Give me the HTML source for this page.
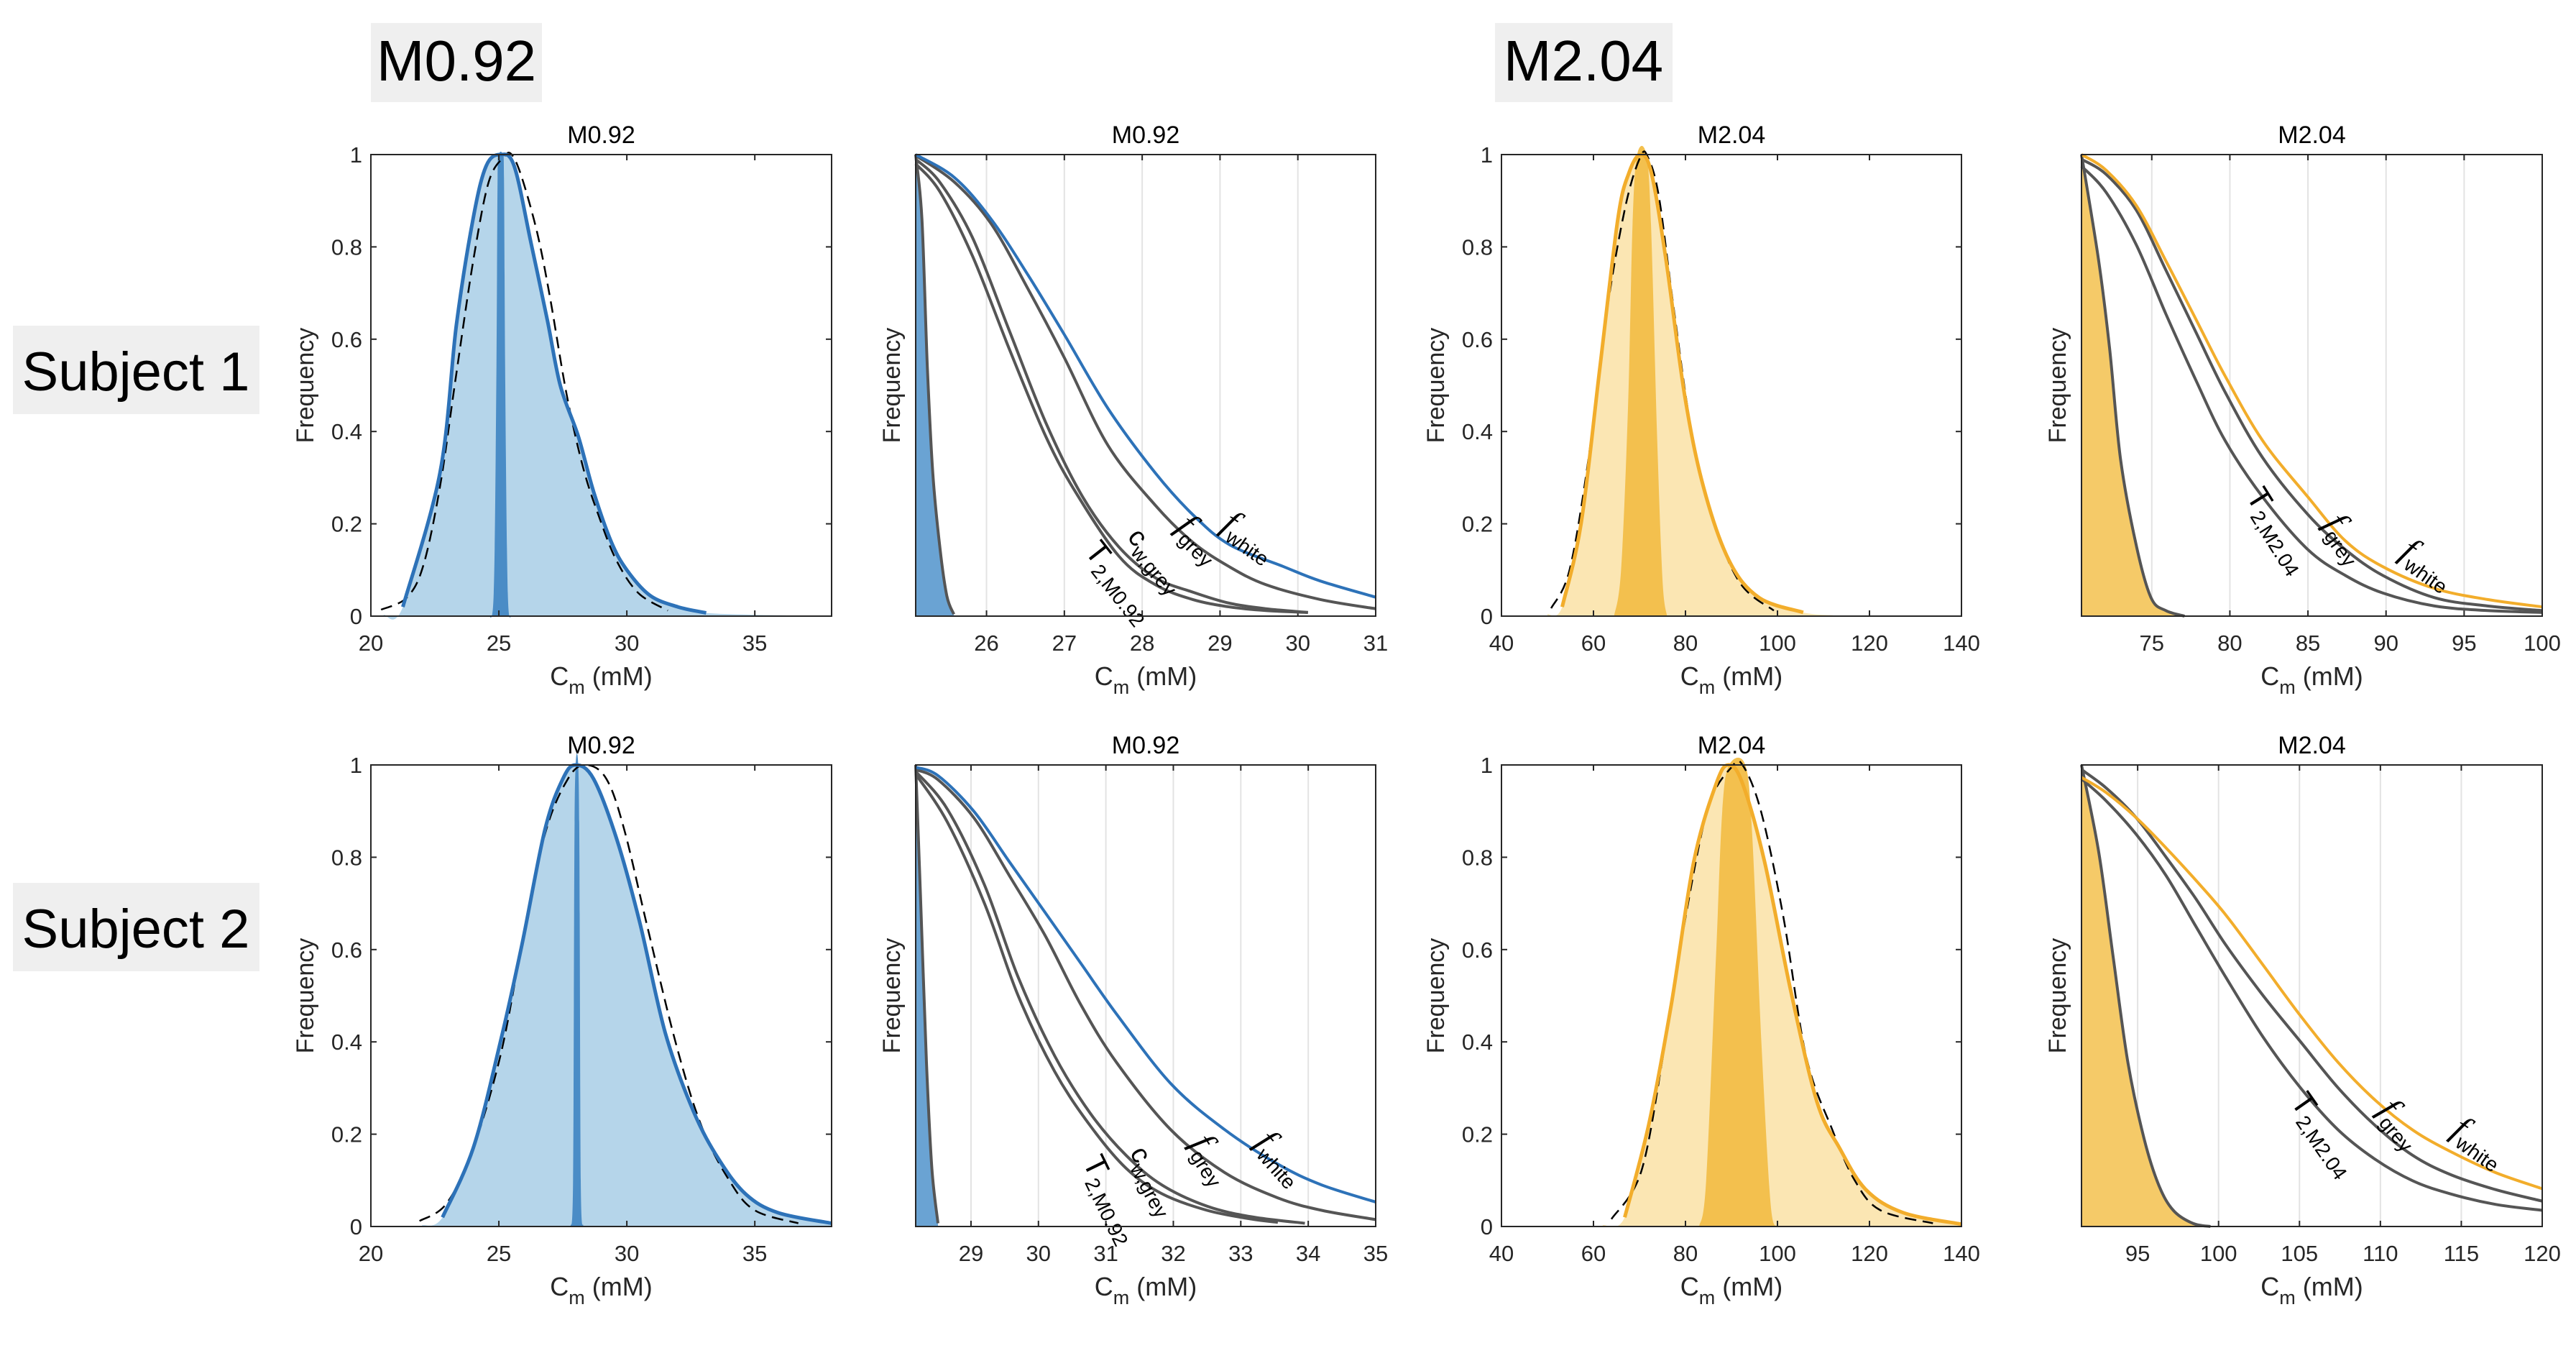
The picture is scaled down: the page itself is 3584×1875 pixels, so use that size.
<!DOCTYPE html>
<html><head><meta charset="utf-8"><style>
html,body{margin:0;padding:0;background:#fff;}
svg text{font-family:"Liberation Sans",sans-serif;}
</style></head><body>
<svg id="fig" xmlns="http://www.w3.org/2000/svg" width="3584" height="1870" viewBox="0 0 3584 1870">
<rect x="0" y="0" width="3584" height="1870" fill="#fff"/>
<g><rect x="516" y="32" width="238" height="110" fill="#efefef"/><text x="635" y="112" font-size="80" text-anchor="middle">M0.92</text></g>
<g><rect x="2080" y="32" width="247" height="110" fill="#efefef"/><text x="2203" y="112" font-size="80" text-anchor="middle">M2.04</text></g>
<g><rect x="18" y="453" width="343" height="123" fill="#efefef"/><text x="189" y="543" font-size="76" text-anchor="middle">Subject 1</text></g>
<g><rect x="18" y="1228" width="343" height="123" fill="#efefef"/><text x="189" y="1318" font-size="76" text-anchor="middle">Subject 2</text></g>
<g id="plots"></g>
</svg>
<script>
// ---------- data ----------
const a1FitX=[21.25,22.7,23.34,23.99,24.5,25.06,25.6,26.25,26.9,27.4,28.1,28.7,29.4,30.0,30.9,32.0,33.1];
const a1FitY=[0.02,0.31,0.63,0.86,0.975,1.0,0.975,0.81,0.64,0.50,0.39,0.27,0.16,0.10,0.045,0.02,0.007];
const a1DashX=[20.4,21.4,22.05,22.7,23.3,24.0,24.6,25.2,25.5,25.9,26.5,27.0,27.65,28.3,28.95,29.6,30.45,31.6];
const a1DashY=[0.014,0.04,0.11,0.28,0.51,0.77,0.94,0.995,1.0,0.95,0.83,0.69,0.48,0.32,0.21,0.12,0.05,0.012];
const a1HistX=[20.5,21.25,22.7,23.34,23.99,24.5,25.06,25.6,26.25,26.9,27.4,28.1,28.7,29.4,30.0,30.9,32.0,33.1,35,37];
const a1HistY=[0.003,0.02,0.31,0.63,0.86,0.975,1.0,0.975,0.81,0.64,0.50,0.39,0.27,0.16,0.10,0.045,0.02,0.007,0.003,0.001];
const a1PeakX=[24.6,24.8,24.9,24.95,25.0,25.15,25.2,25.25,25.35,25.5];
const a1PeakY=[0,0.05,0.5,0.95,1,1,0.95,0.5,0.05,0];
const b1FitX=[22.8,24.0,25.06,25.9,26.8,27.5,28.0,28.7,29.6,30.5,31.5,32.6,33.6,34.65,35.9,38];
const b1FitY=[0.02,0.17,0.40,0.61,0.86,0.97,1.0,0.97,0.84,0.66,0.42,0.25,0.145,0.07,0.03,0.007];
const b1DashX=[21.9,22.96,24.0,25.06,25.9,26.8,27.7,28.4,29.2,29.9,30.8,31.9,32.9,34.0,35.0,36.7];
const b1DashY=[0.012,0.05,0.17,0.37,0.61,0.85,0.97,1.0,0.97,0.86,0.65,0.40,0.22,0.10,0.035,0.007];
const b1HistX=[22.0,22.8,24.0,25.06,25.9,26.8,27.5,28.0,28.7,29.6,30.5,31.5,32.6,33.6,34.65,35.9,38];
const b1HistY=[0.003,0.02,0.17,0.40,0.61,0.86,0.97,1.0,0.97,0.84,0.66,0.42,0.25,0.145,0.07,0.03,0.007];
const b1PeakX=[27.8,27.9,27.95,28.0,28.1,28.15,28.2,28.3];
const b1PeakY=[0,0.1,0.8,1,1,0.8,0.1,0];
const a3FitX=[53.2,57.3,61.3,65.3,67.7,70.2,72.6,75.8,79.8,83.9,89.5,96,105.6];
const a3FitY=[0.02,0.2,0.53,0.86,0.96,1.0,0.96,0.77,0.48,0.28,0.12,0.04,0.008];
const a3DashX=[50.8,54.8,58.9,62.9,67,70.2,71.8,74.2,77.4,81.5,86.3,92,99.2];
const a3DashY=[0.017,0.1,0.34,0.66,0.89,0.995,0.995,0.91,0.67,0.39,0.2,0.07,0.012];
const a3HistX=[50,53.2,57.3,61.3,65.3,67.7,70.2,72.6,75.8,79.8,83.9,89.5,96,105.6,112];
const a3HistY=[0.004,0.02,0.2,0.53,0.86,0.96,1.0,0.96,0.77,0.48,0.28,0.12,0.04,0.008,0.002];
const a3PeakX=[64.5,66,67.5,68.5,69.5,71.5,72.5,73.8,75,76];
const a3PeakY=[0,0.1,0.45,0.85,1,1,0.85,0.4,0.08,0];
const b3FitX=[66.8,72,76.9,81.8,86.7,89.4,92.4,97.2,102.9,108.6,113.5,119.2,127.3,140];
const b3FitY=[0.02,0.22,0.48,0.79,0.96,1.0,0.96,0.79,0.51,0.27,0.17,0.08,0.03,0.005];
const b3DashX=[63.9,70.4,75.3,80.2,85,90,92.4,96.4,101.3,106.2,111.9,116.8,122.4,133.8];
const b3DashY=[0.016,0.12,0.38,0.68,0.91,0.995,1.0,0.9,0.67,0.37,0.21,0.1,0.035,0.007];
const b3HistX=[62,66.8,72,76.9,81.8,86.7,89.4,92.4,97.2,102.9,108.6,113.5,119.2,127.3,140];
const b3HistY=[0.003,0.02,0.22,0.48,0.79,0.96,1.0,0.96,0.79,0.51,0.27,0.17,0.08,0.03,0.005];
const b3PeakX=[83,84.5,86.7,88,89.5,93,94.5,96.5,98.5,100];
const b3PeakY=[0,0.1,0.6,0.9,1,1,0.85,0.4,0.05,0];
const a2WhiteX=[25.09,25.59,26.06,26.53,27.0,27.56,28.17,28.65,29.12,29.82,30.29,31.0];
const a2WhiteY=[1.0,0.95,0.86,0.74,0.61,0.45,0.31,0.22,0.155,0.107,0.076,0.041];
const a2GreyX=[25.09,25.59,26.06,26.53,27.0,27.56,28.17,28.65,29.12,29.59,30.29,31.0];
const a2GreyY=[0.998,0.94,0.85,0.71,0.56,0.37,0.24,0.16,0.107,0.068,0.036,0.016];
const a2CwX=[25.09,25.4,25.82,26.29,26.76,27.23,27.7,28.17,28.65,29.12,29.59,30.13];
const a2CwY=[0.99,0.94,0.82,0.62,0.42,0.26,0.15,0.083,0.052,0.028,0.016,0.008];
const a2T2X=[25.09,25.4,25.82,26.29,26.76,27.14,27.7,28.17,28.65,29.12,29.59,30.13];
const a2T2Y=[0.98,0.92,0.78,0.58,0.39,0.27,0.13,0.068,0.036,0.02,0.012,0.008];
const a2FillX=[25.09,25.17,25.24,25.31,25.4,25.49,25.58];
const a2FillY=[1,0.86,0.54,0.31,0.15,0.044,0.004];
const b2WhiteX=[28.18,28.51,29.04,29.57,30.1,30.63,31.16,31.96,32.76,33.55,34.2,35];
const b2WhiteY=[0.995,0.977,0.90,0.79,0.68,0.57,0.46,0.31,0.21,0.135,0.09,0.053];
const b2GreyX=[28.18,28.51,29.04,29.57,30.1,30.63,31.16,31.96,32.76,33.55,34.2,35];
const b2GreyY=[0.99,0.968,0.886,0.76,0.63,0.48,0.355,0.21,0.117,0.062,0.035,0.015];
const b2CwX=[28.18,28.65,29.2,29.7,30.24,30.77,31.3,31.83,32.5,33.16,33.95];
const b2CwY=[0.986,0.904,0.74,0.54,0.37,0.245,0.154,0.09,0.044,0.021,0.007];
const b2T2X=[28.18,28.65,29.2,29.7,30.24,30.77,31.3,31.83,32.5,33.16,33.55];
const b2T2Y=[0.98,0.876,0.70,0.50,0.336,0.218,0.126,0.071,0.035,0.016,0.009];
const b2FillX=[28.18,28.25,28.34,28.42,28.51];
const b2FillY=[1,0.72,0.355,0.126,0.007];
const a4WhiteX=[70.5,72.08,74.0,75.9,77.8,79.7,82.1,85.0,87.4,89.8,93.1,96.5,100];
const a4WhiteY=[1.0,0.966,0.89,0.77,0.645,0.52,0.38,0.258,0.163,0.107,0.06,0.036,0.02];
const a4GreyX=[70.5,72.08,74.0,75.9,77.8,79.7,82.1,85.0,87.4,89.8,93.1,96.5,100];
const a4GreyY=[0.99,0.957,0.88,0.75,0.617,0.485,0.343,0.22,0.144,0.088,0.04,0.022,0.012];
const a4T2X=[70.5,72.08,74.0,75.9,77.8,79.7,82.1,85.0,87.4,89.8,93.1,96.5,100];
const a4T2Y=[0.975,0.918,0.805,0.655,0.513,0.38,0.258,0.144,0.088,0.05,0.022,0.012,0.008];
const a4FillX=[70.5,71.6,72.3,73.0,74.0,74.95,75.9,77.1];
const a4FillY=[1,0.77,0.58,0.34,0.154,0.04,0.012,0];
const b4WhiteX=[91.53,93.06,94.9,96.76,98.6,100.45,102.76,105.07,107.4,109.7,112.0,114.3,117.1,120];
const b4WhiteY=[0.973,0.94,0.886,0.82,0.75,0.675,0.566,0.456,0.355,0.273,0.209,0.163,0.117,0.082];
const b4GreyX=[91.53,93.06,94.9,96.76,98.6,100.45,102.76,105.07,107.4,109.7,112.0,114.3,117.1,120];
const b4GreyY=[0.99,0.95,0.886,0.80,0.71,0.61,0.50,0.40,0.30,0.218,0.154,0.113,0.08,0.055];
const b4T2X=[91.53,93.06,94.9,96.76,98.6,100.45,102.76,105.07,107.4,109.7,112.0,114.3,117.1,120];
const b4T2Y=[0.97,0.922,0.85,0.76,0.65,0.54,0.41,0.30,0.209,0.145,0.099,0.071,0.048,0.035];
const b4FillX=[91.53,92.6,93.5,94.4,95.4,96.3,97.2,98.4,99.5];
const b4FillY=[1,0.81,0.58,0.355,0.19,0.09,0.035,0.007,0];
const ticksC1=[20,25,30,35];
const ticksC3=[40,60,80,100,120,140];
const ticksA2=[26,27,28,29,30,31];
const ticksB2=[29,30,31,32,33,34,35];
const ticksA4=[75,80,85,90,95,100];
const ticksB4=[95,100,105,110,115,120];
const ticksY=[0,0.2,0.4,0.6,0.8,1];
const tickLabelsY=["0","0.2","0.4","0.6","0.8","1"];

// ---------- drawing ----------
const NS="http://www.w3.org/2000/svg";
const root=document.getElementById('plots');
function mk(tag,attrs,parent){const e=document.createElementNS(NS,tag);for(const k in attrs)e.setAttribute(k,attrs[k]);(parent||root).appendChild(e);return e;}
function axes(x0,x1,L,R,T,B){return {sx:v=>L+(v-x0)/(x1-x0)*(R-L),sy:v=>B-v*(B-T),L,R,T,B};}
function smooth(P){let d='';for(let i=0;i<P.length-1;i++){const p0=P[i-1]||P[i],p1=P[i],p2=P[i+1],p3=P[i+2]||P[i+1];
  const c1=[p1[0]+(p2[0]-p0[0])/6,p1[1]+(p2[1]-p0[1])/6],c2=[p2[0]-(p3[0]-p1[0])/6,p2[1]-(p3[1]-p1[1])/6];
  d+=' C'+c1[0].toFixed(1)+','+c1[1].toFixed(1)+' '+c2[0].toFixed(1)+','+c2[1].toFixed(1)+' '+p2[0].toFixed(1)+','+p2[1].toFixed(1);}return d;}
function curveD(ax,X,Y){const P=X.map((x,i)=>[ax.sx(x),ax.sy(Y[i])]);return 'M'+P[0][0].toFixed(1)+','+P[0][1].toFixed(1)+smooth(P);}
function areaD(ax,X,Y){const P=X.map((x,i)=>[ax.sx(x),ax.sy(Y[i])]);return 'M'+P[0][0].toFixed(1)+','+ax.B+' L'+P[0][0].toFixed(1)+','+P[0][1].toFixed(1)+smooth(P)+' L'+P[P.length-1][0].toFixed(1)+','+ax.B+' Z';}
function frame(g,ax,title,xt,grid,yLabels){
  if(grid){xt.forEach(t=>{const l=mk('line',{x1:ax.sx(t),x2:ax.sx(t),y1:ax.T,y2:ax.B,stroke:'#e3e3e3','stroke-width':2},g);
    
    });}
  xt.forEach(t=>{const x=ax.sx(t);
    mk('line',{x1:x,x2:x,y1:ax.B,y2:ax.B-8,stroke:'#262626','stroke-width':2},g);
    mk('line',{x1:x,x2:x,y1:ax.T,y2:ax.T+8,stroke:'#262626','stroke-width':2},g);
    const tx=mk('text',{x:x,y:ax.B+48,'font-size':31,'text-anchor':'middle',fill:'#262626'},g);tx.textContent=t;
    
    });
  if(yLabels){ticksY.forEach((t,i)=>{const y=ax.sy(t);
    mk('line',{x1:ax.L,x2:ax.L+8,y1:y,y2:y,stroke:'#262626','stroke-width':2},g);
    mk('line',{x1:ax.R,x2:ax.R-8,y1:y,y2:y,stroke:'#262626','stroke-width':2},g);
    const tx=mk('text',{x:ax.L-12,y:y+11,'font-size':31,'text-anchor':'end',fill:'#262626'},g);tx.textContent=tickLabelsY[i];
    
    });}
  const tt=mk('text',{x:(ax.L+ax.R)/2,y:ax.T-16,'font-size':34,'text-anchor':'middle',fill:'#000'},g);tt.textContent=title;
  
  
  const xl=mk('text',{x:(ax.L+ax.R)/2,y:ax.B+96,'font-size':36,'text-anchor':'middle',fill:'#262626'},g);
  
  
  xl.innerHTML='C<tspan font-size="27" dy="12">m</tspan><tspan dy="-12"> (mM)</tspan>';
  const fx=yLabels?ax.L-80:ax.L-22;
  const yl=mk('text',{x:fx,y:(ax.T+ax.B)/2,'font-size':34,'text-anchor':'middle',fill:'#262626',transform:'rotate(-90 '+fx+' '+((ax.T+ax.B)/2)+')'},g);
  yl.textContent='Frequency';
  
  
}
function box(g,ax){const r=mk('rect',{x:ax.L,y:ax.T,width:ax.R-ax.L,height:ax.B-ax.T,fill:'none',stroke:'#262626','stroke-width':2},g);
  
  }
function distPanel(ax,title,xt,hx,hy,px,py,fx,fy,dx,dy,cLight,cDark,cLine,name){
  const g=mk('g',{});
  
  
  const h=mk('path',{d:areaD(ax,hx,hy),fill:cLight},g);
  
  
  const p=mk('path',{d:areaD(ax,px,py),fill:cDark},g);
  
  
  const d=mk('path',{d:curveD(ax,dx,dy),fill:'none',stroke:'#000','stroke-width':2.5,'stroke-dasharray':'16 9'},g);
  
  
  const f=mk('path',{d:curveD(ax,fx,fy),fill:'none',stroke:cLine,'stroke-width':5,'stroke-linejoin':'round'},g);
  
  
  frame(g,ax,title,xt,false,true);
  box(g,ax);
}
function tailPanel(ax,title,xt,fillX,fillY,cFill,whiteX,whiteY,cWhite,greyX,greyY,cwX,cwY,t2X,t2Y,labels,name){
  const g=mk('g',{});
  
  
  frame(g,ax,title,xt,true,false);
  const f=mk('path',{d:areaD(ax,fillX,fillY),fill:cFill,stroke:'none'},g);
  
  
  const fo=mk('path',{d:curveD(ax,fillX,fillY),fill:'none',stroke:'#555','stroke-width':4},g);
  
  
  const curves=[[t2X,t2Y,'#555','t2-curve'],[cwX,cwY,'#555','cw-grey-curve'],[greyX,greyY,'#555','f-grey-curve'],[whiteX,whiteY,cWhite,'f-white-curve']];
  curves.forEach(c=>{
    if(!c[0])return;
    const l=mk('path',{d:curveD(ax,c[0],c[1]),fill:'none',stroke:c[2],'stroke-width':4,'stroke-linejoin':'round'},g);
    
    });
  labels.forEach(lb=>{const x=ax.sx(lb[0]),y=ax.sy(lb[1]);
    const t=mk('text',{x:x,y:y,fill:'#000',transform:'rotate('+lb[3]+' '+x+' '+y+')'},g);
    t.innerHTML=lb[2];
    
    });
  box(g,ax);
}
const W='<tspan font-family="Liberation Serif" font-style="italic" font-size="50">f</tspan><tspan font-size="28" dy="10">white</tspan>';
const G='<tspan font-family="Liberation Serif" font-style="italic" font-size="50">f</tspan><tspan font-size="28" dy="10">grey</tspan>';
const CW='<tspan font-size="38">c</tspan><tspan font-size="28" dy="10">w,grey</tspan>';
const T2a='<tspan font-size="44">T</tspan><tspan font-size="28" dy="10">2,M0.92</tspan>';
const T2b='<tspan font-size="44">T</tspan><tspan font-size="28" dy="10">2,M2.04</tspan>';

const C1=[516,1157],C2=[1274,1914],C3=[2089,2729],C4=[2896,3537],R1=[215,857],R2=[1064,1706];
const LB='#b5d5ea',DB='#4a8cc6',BL='#2d72b8',LO='#fbe6b3',DO='#f3c04e',OR='#f2ad2b';
distPanel(axes(20,38,C1[0],C1[1],R1[0],R1[1]),'M0.92',ticksC1,a1HistX,a1HistY,a1PeakX,a1PeakY,a1FitX,a1FitY,a1DashX,a1DashY,LB,DB,BL,'panel-s1-m092-dist');
distPanel(axes(20,38,C1[0],C1[1],R2[0],R2[1]),'M0.92',ticksC1,b1HistX,b1HistY,b1PeakX,b1PeakY,b1FitX,b1FitY,b1DashX,b1DashY,LB,DB,BL,'panel-s2-m092-dist');
distPanel(axes(40,140,C3[0],C3[1],R1[0],R1[1]),'M2.04',ticksC3,a3HistX,a3HistY,a3PeakX,a3PeakY,a3FitX,a3FitY,a3DashX,a3DashY,LO,DO,OR,'panel-s1-m204-dist');
distPanel(axes(40,140,C3[0],C3[1],R2[0],R2[1]),'M2.04',ticksC3,b3HistX,b3HistY,b3PeakX,b3PeakY,b3FitX,b3FitY,b3DashX,b3DashY,LO,DO,OR,'panel-s2-m204-dist');
tailPanel(axes(25.09,31,C2[0],C2[1],R1[0],R1[1]),'M0.92',ticksA2,a2FillX,a2FillY,'#6aa3d3',a2WhiteX,a2WhiteY,BL,a2GreyX,a2GreyY,a2CwX,a2CwY,a2T2X,a2T2Y,
 [[29.0,0.19,W,35],[28.42,0.19,G,45],[27.8,0.17,CW,50],[27.25,0.14,T2a,52]],'panel-s1-m092-tail');
tailPanel(axes(28.18,35,C2[0],C2[1],R2[0],R2[1]),'M0.92',ticksB2,b2FillX,b2FillY,'#6aa3d3',b2WhiteX,b2WhiteY,BL,b2GreyX,b2GreyY,b2CwX,b2CwY,b2T2X,b2T2Y,
 [[33.2,0.18,W,48],[32.25,0.18,G,58],[31.35,0.16,CW,62],[30.65,0.14,T2a,64]],'panel-s2-m092-tail');
tailPanel(axes(70.5,100,C4[0],C4[1],R1[0],R1[1]),'M2.04',ticksA4,a4FillX,a4FillY,'#f5ca68',a4WhiteX,a4WhiteY,OR,a4GreyX,a4GreyY,null,null,a4T2X,a4T2Y,
 [[90.8,0.13,W,35],[86.0,0.2,G,55],[81.0,0.26,T2b,58]],'panel-s1-m204-tail');
tailPanel(axes(91.53,120,C4[0],C4[1],R2[0],R2[1]),'M2.04',ticksB4,b4FillX,b4FillY,'#f5ca68',b4WhiteX,b4WhiteY,OR,b4GreyX,b4GreyY,null,null,b4T2X,b4T2Y,
 [[114.3,0.2,W,35],[109.8,0.25,G,50],[104.4,0.27,T2b,55]],'panel-s2-m204-tail');
</script>
</body></html>
